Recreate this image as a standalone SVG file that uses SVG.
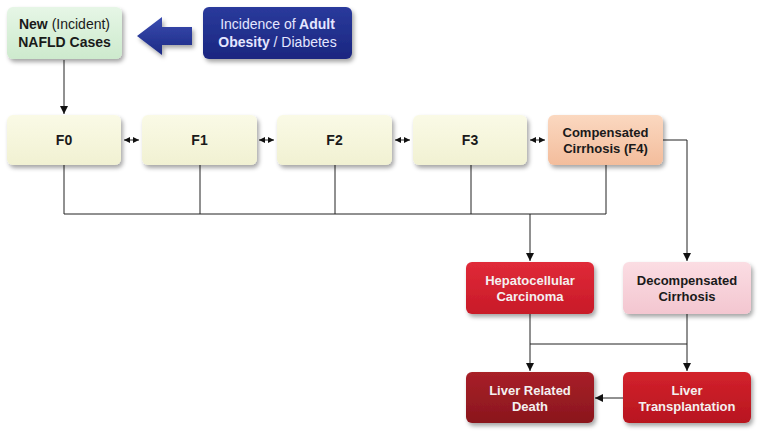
<svg xmlns="http://www.w3.org/2000/svg" width="763" height="435" viewBox="0 0 763 435">
<defs>
<filter id="sh" x="-10%" y="-10%" width="125%" height="135%">
<feDropShadow dx="2" dy="3" stdDeviation="2.2" flood-color="#000" flood-opacity="0.35"/>
</filter>
<linearGradient id="gGreen" x1="0" y1="0" x2="0" y2="1"><stop offset="0" stop-color="#e6f6e6"/><stop offset="1" stop-color="#cdeacd"/></linearGradient>
<linearGradient id="gBlue" x1="0" y1="0" x2="0" y2="1"><stop offset="0" stop-color="#2a3a9c"/><stop offset="1" stop-color="#1a2680"/></linearGradient>
<linearGradient id="gCream" x1="0" y1="0" x2="0" y2="1"><stop offset="0" stop-color="#fafae6"/><stop offset="1" stop-color="#f1f1d2"/></linearGradient>
<linearGradient id="gPeach" x1="0" y1="0" x2="0" y2="1"><stop offset="0" stop-color="#fbd8c0"/><stop offset="1" stop-color="#f3bd9c"/></linearGradient>
<linearGradient id="gRed" x1="0" y1="0" x2="0" y2="1"><stop offset="0" stop-color="#e02a38"/><stop offset="1" stop-color="#c81a28"/></linearGradient>
<linearGradient id="gPink" x1="0" y1="0" x2="0" y2="1"><stop offset="0" stop-color="#fbdde3"/><stop offset="1" stop-color="#f3c6d0"/></linearGradient>
<linearGradient id="gDark" x1="0" y1="0" x2="0" y2="1"><stop offset="0" stop-color="#a82028"/><stop offset="1" stop-color="#8a161d"/></linearGradient>
<linearGradient id="gRed2" x1="0" y1="0" x2="0" y2="1"><stop offset="0" stop-color="#d2222c"/><stop offset="1" stop-color="#b8161f"/></linearGradient>
<linearGradient id="gArrow" x1="0" y1="0" x2="0" y2="1"><stop offset="0" stop-color="#3a4cb0"/><stop offset="1" stop-color="#1c2a85"/></linearGradient>
<marker id="ah" viewBox="0 0 10 10" refX="10" refY="5" markerWidth="8" markerHeight="8" markerUnits="userSpaceOnUse" orient="auto-start-reverse">
<path d="M0,0 L10,5 L0,10 z" fill="#111"/>
</marker>
<marker id="ahs" viewBox="0 0 10 10" refX="10" refY="5" markerWidth="6" markerHeight="6" markerUnits="userSpaceOnUse" orient="auto-start-reverse">
<path d="M0,0 L10,5 L0,10 z" fill="#111"/>
</marker>
</defs>
<style>
.box{filter:url(#sh);stroke:none}
.t{font-family:"Liberation Sans",Arial,sans-serif;font-size:13px;text-anchor:middle;font-weight:bold}
.big{font-size:14px}
.dk{fill:#1a1a1a}
.wt{fill:#f4f0f0}
.n{font-weight:normal}
.c{fill:none;stroke:#222;stroke-width:1}
</style>
<rect width="763" height="435" fill="#ffffff"/>

<g id="connectors">
<line class="c" x1="64" y1="60" x2="64" y2="114" marker-end="url(#ah)"/>
<line class="c" x1="124" y1="140" x2="139" y2="140" marker-start="url(#ahs)" marker-end="url(#ahs)"/>
<line class="c" x1="259" y1="140" x2="274" y2="140" marker-start="url(#ahs)" marker-end="url(#ahs)"/>
<line class="c" x1="395" y1="140" x2="410" y2="140" marker-start="url(#ahs)" marker-end="url(#ahs)"/>
<line class="c" x1="530" y1="140" x2="545" y2="140" marker-start="url(#ahs)" marker-end="url(#ahs)"/>
<polyline class="c" points="64,165 64,214 606,214 606,165"/>
<line class="c" x1="200" y1="165" x2="200" y2="214"/>
<line class="c" x1="335" y1="165" x2="335" y2="214"/>
<line class="c" x1="471" y1="165" x2="471" y2="214"/>
<line class="c" x1="530" y1="214" x2="530" y2="261" marker-end="url(#ah)"/>
<polyline class="c" points="663,140 687,140 687,261" marker-end="url(#ah)"/>
<line class="c" x1="530" y1="314" x2="530" y2="371" marker-end="url(#ah)"/>
<line class="c" x1="687" y1="314" x2="687" y2="371" marker-end="url(#ah)"/>
<line class="c" x1="530" y1="344" x2="687" y2="344"/>
<line class="c" x1="623" y1="398" x2="595" y2="398" marker-end="url(#ah)"/>
</g>

<g id="node-nafld">
<rect class="box" x="7" y="7" width="115" height="52" rx="6" fill="url(#gGreen)"/>
<text class="t big dk" x="64.5" y="29">New <tspan class="n">(Incident)</tspan></text>
<text class="t big dk" x="64.5" y="47">NAFLD Cases</text>
</g>

<g id="big-arrow">
<polygon class="box" points="137,36 162,17 162,27 192,27 192,45 162,45 162,55" fill="url(#gArrow)"/>
</g>

<g id="node-obesity">
<rect class="box" x="203" y="7" width="149" height="52" rx="6" fill="url(#gBlue)"/>
<text class="t big" x="277.5" y="29" fill="#e4e6ff"><tspan class="n">Incidence of</tspan> Adult</text>
<text class="t big" x="277.5" y="47" fill="#e4e6ff">Obesity <tspan class="n">/ Diabetes</tspan></text>
</g>

<g id="node-f0">
<rect class="box" x="7" y="115" width="114" height="50" rx="6" fill="url(#gCream)"/>
<text class="t big dk" x="64" y="145">F0</text>
</g>
<g id="node-f1">
<rect class="box" x="142" y="115" width="115" height="50" rx="6" fill="url(#gCream)"/>
<text class="t big dk" x="199.5" y="145">F1</text>
</g>
<g id="node-f2">
<rect class="box" x="277" y="115" width="115" height="50" rx="6" fill="url(#gCream)"/>
<text class="t big dk" x="334.5" y="145">F2</text>
</g>
<g id="node-f3">
<rect class="box" x="413" y="115" width="114" height="50" rx="6" fill="url(#gCream)"/>
<text class="t big dk" x="470" y="145">F3</text>
</g>
<g id="node-f4">
<rect class="box" x="548" y="115" width="115" height="50" rx="6" fill="url(#gPeach)"/>
<text class="t dk" x="605.5" y="137">Compensated</text>
<text class="t dk" x="605.5" y="153">Cirrhosis (F4)</text>
</g>

<g id="node-hcc">
<rect class="box" x="466" y="262" width="128" height="52" rx="6" fill="url(#gRed)"/>
<text class="t wt" x="530" y="285">Hepatocellular</text>
<text class="t wt" x="530" y="301">Carcinoma</text>
</g>
<g id="node-decomp">
<rect class="box" x="623" y="262" width="128" height="52" rx="6" fill="url(#gPink)"/>
<text class="t dk" x="687" y="285">Decompensated</text>
<text class="t dk" x="687" y="301">Cirrhosis</text>
</g>
<g id="node-death">
<rect class="box" x="466" y="372" width="128" height="51" rx="6" fill="url(#gDark)"/>
<text class="t wt" x="530" y="395">Liver Related</text>
<text class="t wt" x="530" y="411">Death</text>
</g>
<g id="node-lt">
<rect class="box" x="623" y="372" width="128" height="51" rx="6" fill="url(#gRed2)"/>
<text class="t wt" x="687" y="395">Liver</text>
<text class="t wt" x="687" y="411">Transplantation</text>
</g>
</svg>
